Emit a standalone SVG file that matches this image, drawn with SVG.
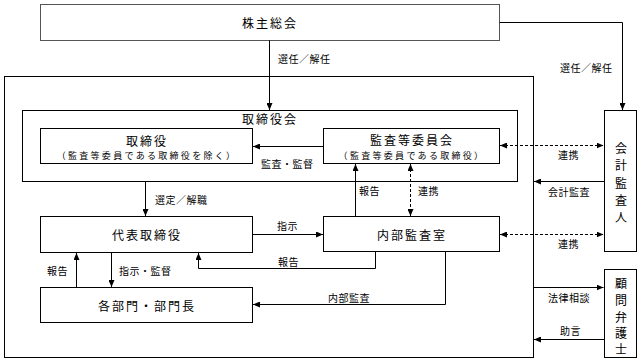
<svg xmlns="http://www.w3.org/2000/svg" width="640" height="364" viewBox="0 0 640 364">
<style>
.box{fill:#fff;stroke:#000;stroke-width:1}
.grp{fill:none;stroke:#000;stroke-width:1}
.t{font-family:"Noto Sans CJK JP","Noto Sans CJK SC",sans-serif;font-size:12px;letter-spacing:2px;text-anchor:middle;dominant-baseline:central;fill:#000}
.s{font-family:"Noto Sans CJK JP","Noto Sans CJK SC",sans-serif;font-size:9px;letter-spacing:2.3px;text-anchor:middle;dominant-baseline:central;fill:#000}
.v{font-family:"Noto Sans CJK JP","Noto Sans CJK SC",sans-serif;font-size:12px;text-anchor:middle;dominant-baseline:central;fill:#000}
.l{font-family:"Noto Sans CJK JP","Noto Sans CJK SC",sans-serif;font-size:10px;letter-spacing:0.5px;dominant-baseline:central;fill:#000}
.c{fill:none;stroke:#000;stroke-width:1;marker-end:url(#ah)}
.d{fill:none;stroke:#000;stroke-width:1;stroke-dasharray:3 2;marker-end:url(#ah);marker-start:url(#ah)}
</style>
<defs>
<marker id="ah" viewBox="0 0 7 6" refX="7" refY="3" markerWidth="7" markerHeight="6" markerUnits="userSpaceOnUse" orient="auto-start-reverse">
<path d="M0,0 L7,3 L0,6 z" fill="#000"/>
</marker>
</defs>
<g id="outer"><rect class="grp" x="4.5" y="76.5" width="529" height="281"/></g>
<g id="board"><rect class="grp" x="22.5" y="110.5" width="495" height="71"/><text class="t" x="270" y="118">取締役会</text></g>
<g id="shareholders"><rect class="box" stroke="#555" x="40.5" y="4.5" width="459" height="36" style="stroke:#555"/><text class="t" x="270" y="22">株主総会</text></g>
<g id="directors"><rect class="box" x="40.5" y="128.5" width="212" height="35"/><text class="t" x="147" y="140">取締役</text><text class="s" x="147" y="155">（監査等委員である取締役を除く）</text></g>
<g id="audit-committee"><rect class="box" x="323.5" y="128.5" width="176" height="35"/><text class="t" x="412" y="139">監査等委員会</text><text class="s" x="412" y="155">（監査等委員である取締役）</text></g>
<g id="accounting-auditor"><rect class="box" x="604.5" y="110.5" width="32" height="141"/><text class="v" x="621" y="147">会</text><text class="v" x="621" y="164.5">計</text><text class="v" x="621" y="182">監</text><text class="v" x="621" y="199">査</text><text class="v" x="621" y="216">人</text></g>
<g id="representative"><rect class="box" x="40.5" y="216.5" width="212" height="36"/><text class="t" x="147" y="234">代表取締役</text></g>
<g id="internal-audit"><rect class="box" x="323.5" y="216.5" width="176" height="35"/><text class="t" x="412" y="234">内部監査室</text></g>
<g id="departments"><rect class="box" x="40.5" y="287.5" width="212" height="35"/><text class="t" x="147" y="305">各部門・部門長</text></g>
<g id="lawyer"><rect class="box" x="604.5" y="269.5" width="32" height="88"/><text class="v" x="621" y="282">顧</text><text class="v" x="621" y="299">問</text><text class="v" x="621" y="316">弁</text><text class="v" x="621" y="332">護</text><text class="v" x="621" y="348">士</text></g>
<g id="connectors">
<path class="c" d="M269.5,40.5 V110"/>
<path class="c" d="M499.5,22.5 H622.5 V110"/>
<path class="c" d="M323,146.5 H253"/>
<path class="d" d="M500,145.5 H603.5"/>
<path class="c" d="M604,181.5 H534"/>
<path class="c" d="M145.5,181.5 V216"/>
<path class="c" d="M253,234.5 H323"/>
<path class="c" d="M375.5,252 V268.5 H198.5 V253"/>
<path class="c" d="M355.5,216 V164"/>
<path class="d" d="M410.5,164 V216"/>
<path class="d" d="M500,234.5 H603.5"/>
<path class="c" d="M76.5,287 V253"/>
<path class="c" d="M111.5,253 V287"/>
<path class="c" d="M445.5,252 V304.5 H253"/>
<path class="c" d="M534,287.5 H603.5"/>
<path class="c" d="M604,339.5 H534"/>
</g>
<g id="labels">
<text class="l" x="278" y="58">選任／解任</text>
<text class="l" x="560" y="67">選任／解任</text>
<text class="l" x="261" y="163">監査・監督</text>
<text class="l" x="558" y="154">連携</text>
<text class="l" x="548" y="191">会計監査</text>
<text class="l" x="155" y="199">選定／解職</text>
<text class="l" x="359" y="190">報告</text>
<text class="l" x="418" y="190">連携</text>
<text class="l" x="277" y="225">指示</text>
<text class="l" x="278" y="261">報告</text>
<text class="l" x="558" y="243">連携</text>
<text class="l" x="47" y="270">報告</text>
<text class="l" x="119" y="270">指示・監督</text>
<text class="l" x="328" y="297">内部監査</text>
<text class="l" x="548" y="297">法律相談</text>
<text class="l" x="560" y="330">助言</text>
</g>
</svg>
